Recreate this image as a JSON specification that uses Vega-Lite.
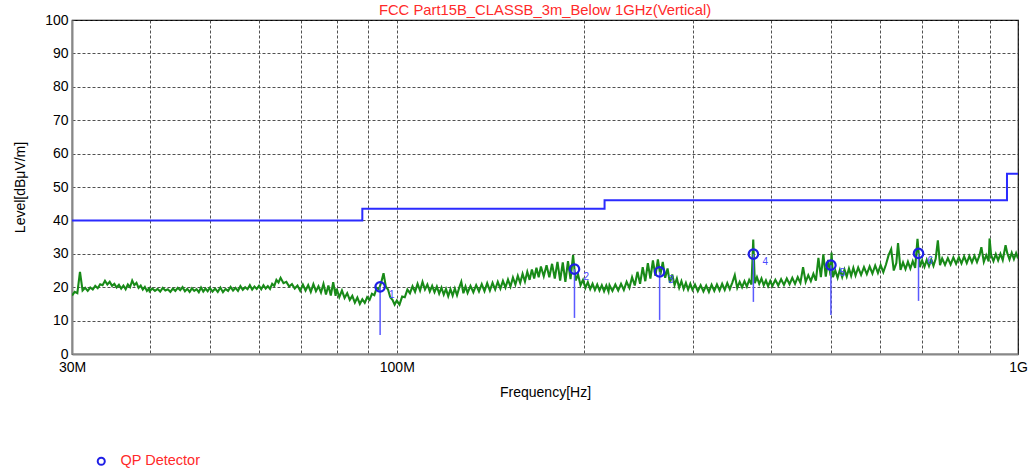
{
  "$schema": "https://vega.github.io/schema/vega-lite/v6.json",
  "width": 946,
  "height": 334,
  "autosize": "none",
  "padding": {"left": 72, "top": 20, "right": 13, "bottom": 118},
  "background": "white",
  "title": {"text": "FCC Part15B_CLASSB_3m_Below 1GHz(Vertical)", "color": "#ff2a2a", "fontSize": 14.8, "fontWeight": "normal", "font": "Liberation Sans", "offset": -5, "anchor": "middle"},
  "config": {
    "view": {"stroke": "#000", "strokeWidth": 1.2},
    "axis": {"labelFont": "Liberation Sans", "labelFontSize": 14, "labelColor": "#000", "titleFont": "Liberation Sans", "titleFontSize": 14, "titleFontWeight": "normal", "titleColor": "#000", "ticks": false, "gridColor": "#333", "gridDash": [3, 2], "gridOpacity": 0.85, "gridWidth": 1, "domainColor": "#888", "domainWidth": 2}
  },
  "datasets": {
    "trace": [
      {"f":30.0,"v":17.5},{"f":30.3,"v":18.6},{"f":30.6,"v":18.2},{"f":30.9,"v":24.6},{"f":31.2,"v":19.0},{"f":31.5,"v":19.8},{"f":31.8,"v":18.9},{"f":32.1,"v":19.9},{"f":32.4,"v":19.3},{"f":32.7,"v":20.4},{"f":33.0,"v":19.7},{"f":33.3,"v":20.9},{"f":33.6,"v":20.6},{"f":33.9,"v":21.9},{"f":34.2,"v":20.8},{"f":34.5,"v":21.6},{"f":34.8,"v":20.4},{"f":35.1,"v":21.0},{"f":35.4,"v":19.9},{"f":35.7,"v":20.7},{"f":36.0,"v":19.6},{"f":36.3,"v":20.5},{"f":36.6,"v":19.4},{"f":36.9,"v":20.8},{"f":37.2,"v":20.0},{"f":37.5,"v":22.0},{"f":37.8,"v":20.6},{"f":38.1,"v":21.3},{"f":38.4,"v":19.8},{"f":38.7,"v":20.5},{"f":39.0,"v":19.3},{"f":39.3,"v":20.1},{"f":39.6,"v":18.9},{"f":39.9,"v":19.6},
      {"f":40.0,"v":18.8},{"f":40.4,"v":19.6},{"f":40.8,"v":18.9},{"f":41.2,"v":19.5},{"f":41.6,"v":18.7},{"f":42.0,"v":19.8},{"f":42.4,"v":19.0},{"f":42.8,"v":19.4},{"f":43.2,"v":18.6},{"f":43.6,"v":19.6},{"f":44.0,"v":18.9},{"f":44.4,"v":19.8},{"f":44.8,"v":19.1},{"f":45.2,"v":20.0},{"f":45.6,"v":18.8},{"f":46.0,"v":19.5},{"f":46.4,"v":18.6},{"f":46.8,"v":19.7},{"f":47.2,"v":18.9},{"f":47.6,"v":19.4},{"f":48.0,"v":18.5},{"f":48.4,"v":19.9},{"f":48.8,"v":18.7},{"f":49.2,"v":19.6},{"f":49.6,"v":18.8},
      {"f":50.0,"v":19.8},{"f":50.5,"v":18.7},{"f":51.0,"v":19.6},{"f":51.5,"v":18.6},{"f":52.0,"v":19.9},{"f":52.5,"v":18.5},{"f":53.0,"v":19.5},{"f":53.5,"v":18.9},{"f":54.0,"v":20.1},{"f":54.5,"v":19.0},{"f":55.0,"v":19.8},{"f":55.5,"v":18.9},{"f":56.0,"v":20.3},{"f":56.5,"v":19.2},{"f":57.0,"v":20.0},{"f":57.5,"v":19.4},{"f":58.0,"v":20.6},{"f":58.5,"v":19.3},{"f":59.0,"v":20.2},{"f":59.5,"v":19.5},{"f":60.0,"v":20.4},{"f":60.5,"v":19.4},{"f":61.0,"v":20.6},{"f":61.5,"v":19.6},{"f":62.0,"v":20.3},{"f":62.5,"v":19.5},{"f":63.0,"v":21.0},{"f":63.5,"v":20.4},{"f":64.0,"v":22.2},{"f":64.5,"v":21.4},
      {"f":65.0,"v":22.8},{"f":65.7,"v":21.2},{"f":66.4,"v":21.6},{"f":67.1,"v":20.2},{"f":67.8,"v":20.9},{"f":68.5,"v":19.6},{"f":69.2,"v":20.5},{"f":69.9,"v":18.9},{"f":70.6,"v":20.8},{"f":71.3,"v":19.0},{"f":72.0,"v":20.6},{"f":72.7,"v":18.6},{"f":73.4,"v":20.9},{"f":74.1,"v":18.8},{"f":74.8,"v":20.3},{"f":75.5,"v":18.4},{"f":76.2,"v":21.0},{"f":76.9,"v":17.8},{"f":77.6,"v":20.5},{"f":78.3,"v":17.5},{"f":79.0,"v":21.5},{"f":79.7,"v":17.4},
      {"f":80.0,"v":19.6},{"f":80.8,"v":17.0},{"f":81.6,"v":19.0},{"f":82.4,"v":16.8},{"f":83.2,"v":18.2},{"f":84.0,"v":16.2},{"f":84.8,"v":17.4},{"f":85.6,"v":15.4},{"f":86.4,"v":16.9},{"f":87.2,"v":15.0},{"f":88.0,"v":16.4},{"f":88.8,"v":15.3},{"f":89.6,"v":17.0},{"f":90.4,"v":16.2},{"f":91.2,"v":18.0},{"f":92.0,"v":17.6},{"f":92.8,"v":19.8},{"f":93.6,"v":19.4},{"f":94.4,"v":21.5},{"f":95.2,"v":24.2},{"f":96.0,"v":20.2},{"f":96.8,"v":19.3},{"f":97.6,"v":17.0},{"f":98.4,"v":16.2},{"f":99.2,"v":14.8},
      {"f":100,"v":16.0},{"f":101,"v":14.8},{"f":102,"v":17.2},{"f":103,"v":17.0},{"f":104,"v":19.3},{"f":105,"v":18.2},{"f":106,"v":20.3},{"f":107,"v":18.6},{"f":108,"v":21.0},{"f":109,"v":19.0},{"f":110,"v":21.6},{"f":111,"v":19.3},{"f":112,"v":20.8},{"f":113,"v":18.7},{"f":114,"v":20.4},{"f":115,"v":18.5},{"f":116,"v":20.2},{"f":117,"v":18.1},{"f":118,"v":19.9},{"f":119,"v":17.8},{"f":120,"v":19.5},{"f":121,"v":17.3},{"f":122,"v":19.4},{"f":123,"v":17.5},{"f":124,"v":19.6},{"f":125,"v":17.6},{"f":126,"v":19.8},{"f":127,"v":21.6},{"f":128,"v":18.2},{"f":129,"v":20.2},
      {"f":130.0,"v":18.3},{"f":131.4,"v":20.4},{"f":132.8,"v":18.5},{"f":134.2,"v":20.6},{"f":135.6,"v":18.7},{"f":137.0,"v":20.9},{"f":138.4,"v":18.8},{"f":139.8,"v":21.2},{"f":141.2,"v":19.0},{"f":142.6,"v":21.3},{"f":144.0,"v":19.3},{"f":145.4,"v":21.6},{"f":146.8,"v":19.6},{"f":148.2,"v":21.9},{"f":149.6,"v":19.9},{"f":151.0,"v":22.3},{"f":152.4,"v":20.2},{"f":153.8,"v":22.9},{"f":155.2,"v":20.8},{"f":156.6,"v":23.4},{"f":158.0,"v":21.3},{"f":159.4,"v":24.0},{"f":160.8,"v":21.7},{"f":162.2,"v":24.6},{"f":163.6,"v":22.2},{"f":165.0,"v":25.3},{"f":166.4,"v":22.6},{"f":167.8,"v":25.8},{"f":169.2,"v":23.0},
      {"f":170.6,"v":26.2},{"f":172.4,"v":23.3},{"f":174.2,"v":26.6},{"f":176.0,"v":23.0},{"f":177.8,"v":27.0},{"f":179.6,"v":22.6},{"f":181.4,"v":27.6},{"f":183.2,"v":22.0},{"f":185.0,"v":27.4},{"f":186.8,"v":21.6},{"f":188.6,"v":27.8},{"f":190.4,"v":22.4},{"f":192.2,"v":29.6},{"f":194.0,"v":22.0},{"f":195.8,"v":23.8},{"f":197.6,"v":20.6},{"f":199.4,"v":22.2},{"f":201.2,"v":19.8},{"f":203.0,"v":21.5},{"f":204.8,"v":19.4},{"f":206.6,"v":21.0},{"f":208.4,"v":19.2},{"f":210.2,"v":20.8},{"f":212.0,"v":19.0},{"f":213.8,"v":20.6},{"f":215.6,"v":18.8},{"f":217.4,"v":20.5},{"f":219.2,"v":18.7},
      {"f":220.0,"v":20.6},{"f":222.4,"v":18.9},{"f":224.8,"v":20.8},{"f":227.2,"v":19.0},{"f":229.6,"v":21.0},{"f":232.0,"v":19.2},{"f":234.4,"v":21.6},{"f":236.8,"v":19.8},{"f":239.2,"v":23.0},{"f":241.6,"v":20.5},{"f":244.0,"v":24.6},{"f":246.4,"v":21.0},{"f":248.8,"v":26.0},{"f":251.2,"v":21.8},{"f":253.6,"v":27.2},{"f":256.0,"v":22.6},{"f":258.4,"v":28.0},{"f":260.8,"v":23.4},{"f":263.2,"v":28.3},{"f":265.6,"v":23.6},{"f":268.0,"v":27.6},{"f":270.4,"v":22.8},{"f":272.8,"v":25.6},{"f":275.2,"v":21.3},{"f":277.6,"v":23.8},{"f":280.0,"v":20.6},{"f":282.4,"v":22.6},{"f":284.8,"v":19.8},{"f":287.2,"v":21.8},{"f":289.6,"v":19.5},{"f":292.0,"v":21.3},{"f":294.4,"v":19.3},{"f":296.8,"v":21.0},{"f":299.2,"v":19.2},
      {"f":302.0,"v":20.8},{"f":305.2,"v":18.8},{"f":308.4,"v":20.6},{"f":311.6,"v":18.7},{"f":314.8,"v":20.5},{"f":318.0,"v":18.6},{"f":321.2,"v":20.7},{"f":324.4,"v":18.9},{"f":327.6,"v":20.8},{"f":330.8,"v":19.0},{"f":334.0,"v":21.0},{"f":337.2,"v":19.2},{"f":340.4,"v":21.2},{"f":343.6,"v":19.4},{"f":346.8,"v":21.4},{"f":350.0,"v":23.6},{"f":353.2,"v":19.8},{"f":356.4,"v":21.6},{"f":359.6,"v":20.0},{"f":362.8,"v":21.8},{"f":366.0,"v":20.2},{"f":369.2,"v":22.2},{"f":372.4,"v":20.8},{"f":374.8,"v":34.3},{"f":377.0,"v":21.2},{"f":380.0,"v":23.0},{"f":383.2,"v":21.0},{"f":386.4,"v":22.6},{"f":389.6,"v":20.6},{"f":392.8,"v":22.0},{"f":396.0,"v":20.3},{"f":399.2,"v":21.9},
      {"f":402.4,"v":20.4},{"f":406.8,"v":22.2},{"f":411.2,"v":20.5},{"f":415.6,"v":22.4},{"f":420.0,"v":20.7},{"f":424.4,"v":22.6},{"f":428.8,"v":20.9},{"f":433.2,"v":22.8},{"f":437.6,"v":21.0},{"f":442.0,"v":23.0},{"f":446.4,"v":21.3},{"f":450.8,"v":26.0},{"f":455.2,"v":21.6},{"f":459.6,"v":23.6},{"f":464.0,"v":21.8},{"f":468.4,"v":24.0},{"f":472.8,"v":22.0},{"f":477.2,"v":28.8},{"f":481.6,"v":23.0},{"f":486.0,"v":29.8},{"f":490.4,"v":23.2},{"f":494.8,"v":28.2},{"f":499.2,"v":23.5},{"f":501.0,"v":30.4},{"f":503.6,"v":23.0},{"f":508.0,"v":25.0},{"f":512.4,"v":22.8},{"f":516.8,"v":25.2},{"f":521.2,"v":23.0},{"f":525.6,"v":25.3},{"f":530.0,"v":23.2},{"f":534.4,"v":25.6},{"f":538.8,"v":23.4},{"f":543.2,"v":25.8},{"f":547.6,"v":23.5},
      {"f":553,"v":25.9},{"f":559,"v":23.7},{"f":565,"v":26.0},{"f":571,"v":23.9},{"f":577,"v":26.2},{"f":583,"v":24.1},{"f":589,"v":26.5},{"f":595,"v":24.3},{"f":601,"v":26.6},{"f":607,"v":24.5},{"f":613,"v":26.8},{"f":619,"v":29.6},{"f":625,"v":31.4},{"f":631,"v":25.0},{"f":637,"v":27.2},{"f":641,"v":33.2},{"f":647,"v":25.2},{"f":653,"v":27.4},{"f":659,"v":25.4},{"f":665,"v":27.6},{"f":671,"v":25.6},{"f":677,"v":27.8},{"f":683,"v":25.8},{"f":689,"v":34.5},{"f":695,"v":26.0},{"f":701,"v":28.0},{"f":707,"v":26.1},{"f":713,"v":28.2},{"f":719,"v":26.3},{"f":725,"v":28.3},{"f":731,"v":26.4},{"f":737,"v":28.5},{"f":743,"v":34.0},{"f":749,"v":26.6},
      {"f":755,"v":28.6},{"f":763,"v":26.7},{"f":771,"v":28.7},{"f":779,"v":26.8},{"f":787,"v":28.9},{"f":795,"v":27.0},{"f":803,"v":29.0},{"f":811,"v":27.1},{"f":819,"v":29.2},{"f":827,"v":27.2},{"f":835,"v":29.3},{"f":843,"v":27.4},{"f":851,"v":29.4},{"f":859,"v":27.5},{"f":867,"v":29.5},{"f":873,"v":32.0},{"f":881,"v":27.6},{"f":889,"v":29.6},{"f":897,"v":27.7},{"f":900,"v":34.6},{"f":905,"v":29.7},{"f":913,"v":27.8},{"f":921,"v":29.9},{"f":929,"v":28.0},{"f":937,"v":30.0},{"f":945,"v":28.1},{"f":955,"v":32.6},{"f":961,"v":30.2},{"f":969,"v":28.3},{"f":977,"v":30.3},{"f":985,"v":28.4},{"f":993,"v":30.2},{"f":1000,"v":28.6}
    ],
    "limit": [
      {"f":30,"v":40,"o":1},{"f":88,"v":40,"o":2},{"f":88,"v":43.5,"o":3},{"f":216,"v":43.5,"o":4},{"f":216,"v":46,"o":5},{"f":960,"v":46,"o":6},{"f":960,"v":54,"o":7},{"f":1000,"v":54,"o":8}
    ],
    "marks": [
      {"n":"1","f":94.0,"v":20.1,"b":5.7,"det":"QP Detector"},
      {"n":"2","f":193.2,"v":25.4,"b":10.8,"det":"QP Detector"},
      {"n":"3","f":264.9,"v":24.6,"b":10.2,"det":"QP Detector"},
      {"n":"4","f":375.0,"v":29.9,"b":15.6,"det":"QP Detector"},
      {"n":"5","f":499.8,"v":26.6,"b":11.7,"det":"QP Detector"},
      {"n":"6","f":691.6,"v":30.1,"b":15.9,"det":"QP Detector"}
    ]
  },
  "encoding": {
    "x": {"field": "f", "type": "quantitative", "scale": {"type": "log", "domain": [30, 1000], "nice": false},
      "axis": {"title": "Frequency[Hz]", "values": [30,40,50,60,70,80,90,100,200,300,400,500,600,700,800,900,1000], "labelExpr": "datum.value == 30 ? '30M' : datum.value == 100 ? '100M' : datum.value == 1000 ? '1G' : ''", "labelFontSize": 14, "labelPadding": 6, "titlePadding": 11, "labelFlush": false, "labelOverlap": false}},
    "y": {"field": "v", "type": "quantitative", "scale": {"domain": [0, 100], "nice": false},
      "axis": {"title": "Level[dBμV/m]", "values": [0,10,20,30,40,50,60,70,80,90,100], "labelFontSize": 14, "labelPadding": 4, "titlePadding": 17}}
  },
  "layer": [
    {"data": {"name": "trace"}, "mark": {"type": "line", "color": "#188a18", "strokeWidth": 2.1, "clip": true}},
    {"data": {"name": "limit"}, "mark": {"type": "line", "color": "#2b2bff", "strokeWidth": 2}, "encoding": {"order": {"field": "o", "type": "quantitative"}}},
    {"data": {"name": "marks"}, "mark": {"type": "rule", "color": "#5a5aff", "strokeWidth": 1.5}, "encoding": {"y2": {"field": "b"}}},
    {"data": {"name": "marks"}, "mark": {"type": "point", "shape": "circle", "filled": false, "size": 90, "strokeWidth": 2.2, "opacity": 1},
      "encoding": {"color": {"field": "det", "type": "nominal", "scale": {"range": ["#1f1fe6"]},
        "legend": {"title": null, "orient": "none", "legendX": 22, "legendY": 434, "labelColor": "#ff2a2a", "labelFont": "Liberation Sans", "labelFontSize": 14.5, "symbolSize": 50, "symbolStrokeWidth": 2, "labelOffset": 12, "symbolType": "circle"}}}},
    {"data": {"name": "marks"}, "mark": {"type": "text", "color": "#4a4aff", "fontSize": 10, "font": "Liberation Sans", "dx": 9, "dy": 8, "align": "left"}, "encoding": {"text": {"field": "n"}}}
  ]
}
